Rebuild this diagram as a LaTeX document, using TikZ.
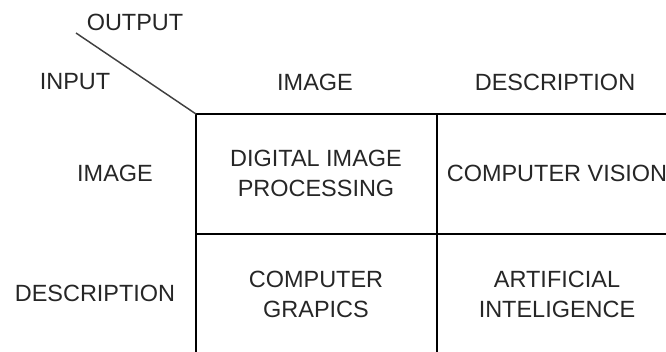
\documentclass[tikz,border=0pt]{standalone}
\usepackage{fontspec}
\setmainfont{Liberation Sans}
\begin{document}
\begin{tikzpicture}[x=0.75pt,y=-0.75pt,
  lbl/.style={inner sep=0pt, text=black!85, align=center,
    font=\fontsize{17.6}{22.5}\selectfont},
  gridline/.style={line width=1.1pt, draw=black},
  diag/.style={line width=1.1pt, draw=black!75}]
\useasboundingbox (0,0) rectangle (666,351);
\clip (0,0) rectangle (666,351);

% corners of the 2x2 table (right and bottom edges run past the page)
\coordinate (tl) at (196,114);
\coordinate (tm) at (437,114);
\coordinate (tr) at (678,114);
\coordinate (ml) at (196,234);
\coordinate (mr) at (678,234);
\coordinate (bl) at (196,354);
\coordinate (bm) at (437,354);
\coordinate (br) at (678,354);
\coordinate (dstart) at (76,33);

% table lines
\draw[gridline] (tl) -- (tr) -- (br) -- (bl) -- cycle;
\draw[gridline] (tm) -- (bm);
\draw[gridline] (ml) -- (mr);

% corner divider between the axis labels
\draw[diag] (dstart) -- (tl);

% axis labels
\node[lbl] (output) at (135,22) {OUTPUT};
\node[lbl] (input) at (75,82) {INPUT};

% column headers
\node[lbl] (colimage) at (315,82) {IMAGE};
\node[lbl] (coldesc) at (555,82) {DESCRIPTION};

% row headers
\node[lbl] (rowimage) at (115,173) {IMAGE};
\node[lbl] (rowdesc) at (95,293) {DESCRIPTION};

% cells
\node[lbl] (dip) at (316,173) {DIGITAL IMAGE\\PROCESSING};
\node[lbl] (cv) at (557,173) {COMPUTER VISION};
\node[lbl] (cg) at (316,294) {COMPUTER\\GRAPICS};
\node[lbl] (ai) at (557,294) {ARTIFICIAL\\INTELIGENCE};
\end{tikzpicture}
\end{document}
